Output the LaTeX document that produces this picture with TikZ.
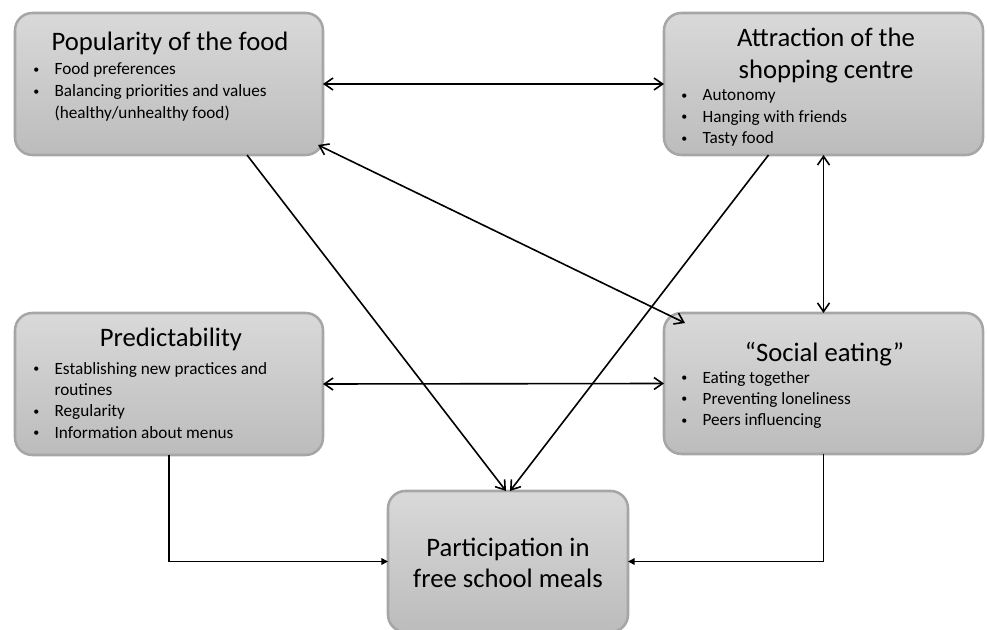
\documentclass[tikz,border=0pt]{standalone}
\usepackage{fontspec}
\setmainfont{Carlito}
\usetikzlibrary{arrows.meta,calc}
\definecolor{boxline}{HTML}{A6A6A6}
\definecolor{boxtop}{HTML}{D9D9D9}
\definecolor{boxbot}{HTML}{BCBCBC}
\newcommand{\bul}{\raisebox{1.2pt}{\fontsize{9}{9}\selectfont •}}
\begin{document}
\begin{tikzpicture}[x=0.75pt,y=-0.75pt,
  box/.style={draw=boxline, line width=1.9pt, rounded corners=13pt,
    top color=boxtop, bottom color=boxbot, inner sep=0pt, outer sep=0pt},
  ttl/.style={anchor=base, inner sep=0pt, font=\fontsize{20}{23.5}\selectfont},
  blist/.style={anchor=base west, inner sep=0pt, font=\fontsize{12.9}{16}\selectfont},
  barb/.tip={Straight Barb[length=6.5pt,width=9pt]},
  dbl/.style={line width=1.2pt, barb-barb},
  one/.style={line width=1.2pt, -barb},
  fl/.style={line width=1.2pt, -{Triangle[length=5pt,width=5pt]}}]
\useasboundingbox (0,0) rectangle (987,630);

% boxes
\node[box, minimum width=231pt, minimum height=106.5pt] (pop) at (169,84) {};
\node[box, minimum width=239.25pt, minimum height=106.5pt] (att) at (823.5,84) {};
\node[box, minimum width=231pt, minimum height=106.5pt] (pred) at (169,384) {};
\node[box, minimum width=239.25pt, minimum height=105.75pt] (soc) at (823.5,383.5) {};
\node[box, minimum width=180pt, minimum height=105.75pt] (part) at (508,561.5) {};

% titles
\node[ttl] (popt) at (170,51) {Popularity of the food};
\node[ttl] (attt) at (826,47) {\begin{tabular}[t]{@{}c@{}}Attraction of the\\ shopping centre\end{tabular}};
\node[ttl] (predt) at (171,347) {Predictability};
\node[ttl] (soct) at (824.5,362) {“Social eating”};
\node[ttl] (partt) at (508,556) {\begin{tabular}[t]{@{}c@{}}Participation in\\ free school meals\end{tabular}};

% bullet lists
\node[blist, font=\fontsize{12.9}{16.5}\selectfont] (popb) at (33,75) {\begin{tabular}[t]{@{}p{16pt}@{}l@{}}
\bul & Food preferences\\
\bul & Balancing priorities and values\\
  & (healthy/unhealthy food)
\end{tabular}};
\node[blist] (attb) at (681,101) {\begin{tabular}[t]{@{}p{16pt}@{}l@{}}
\bul & Autonomy\\
\bul & Hanging with friends\\
\bul & Tasty food
\end{tabular}};
\node[blist] (predb) at (33,374) {\begin{tabular}[t]{@{}p{16pt}@{}l@{}}
\bul & Establishing new practices and\\
  & routines\\
\bul & Regularity\\
\bul & Information about menus
\end{tabular}};
\node[blist] (socb) at (681,383) {\begin{tabular}[t]{@{}p{16pt}@{}l@{}}
\bul & Eating together\\
\bul & Preventing loneliness\\
\bul & Peers influencing
\end{tabular}};

% connectors
\draw[dbl] (pop.east) -- (att.west);
\draw[dbl] (pred.east) -- (soc.west);
\draw[dbl] ($(pop.south east)+(-5,-10)$) -- ($(soc.north west)+(21,10)$);
\draw[dbl] (att.south) -- (soc.north);
\draw[one] ($(pop.south)+(78,0)$) -- ($(part.north)+(-2,0)$);
\draw[one] ($(att.south)+(-55,0)$) -- ($(part.north)+(2,0)$);
\draw[fl] (pred.south) |- (part.west);
\draw[fl] (soc.south) |- (part.east);
\end{tikzpicture}
\end{document}
